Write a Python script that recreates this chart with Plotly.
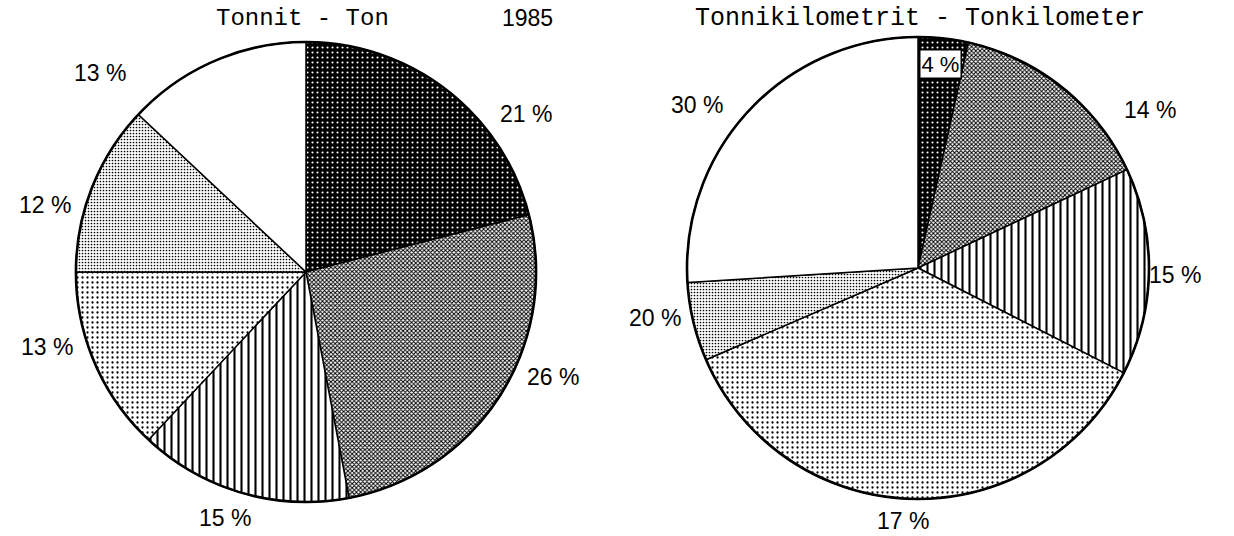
import plotly.graph_objects as go

# ---- data ----
left_title = "Tonnit - Ton"
right_title = "Tonnikilometrit - Tonkilometer"
year_label = "1985"
categories = ["A", "B", "C", "D", "E", "F"]
left_values = [21, 26, 15, 13, 12, 13]
left_labels = ["21 %", "26 %", "15 %", "13 %", "12 %", "13 %"]
right_values = [3.5, 14.5, 14.5, 36, 5.5, 26]
right_labels = ["4 %", "14 %", "15 %", "17 %", "20 %", "30 %"]

# ---- styles ----
W, H = 1234, 536
pat_shape = [".", "x", "|", ".", ".", ""]
pat_bg = ["black", "white", "white", "white", "white", "white"]
pat_fg = ["white", "black", "black", "black", "black", "black"]
pat_size = [5, 3, 7, 5, 3, 8]
pat_sol = [0.14, 0.55, 0.3, 0.16, 0.25, 0.0]


def px_dom(x0, x1, y0, y1):
    return dict(x=[x0 / W, x1 / W], y=[1 - y1 / H, 1 - y0 / H])


def pie(values, dom):
    return go.Pie(
        labels=categories,
        values=values,
        sort=False,
        direction="clockwise",
        rotation=0,
        textinfo="none",
        hoverinfo="skip",
        showlegend=False,
        domain=dom,
        marker=dict(
            colors=pat_bg,
            line=dict(color="black", width=1.5),
            pattern=dict(shape=pat_shape, bgcolor=pat_bg, fgcolor=pat_fg,
                         size=pat_size, solidity=pat_sol, fillmode="replace"),
        ),
    )


def rim(values, dom):
    # outline of the whole pie (sum of all values), drawn thicker
    return go.Pie(
        labels=["total"], values=[sum(values)], sort=False, textinfo="none",
        hoverinfo="skip", showlegend=False, domain=dom,
        marker=dict(colors=["rgba(0,0,0,0)"], line=dict(color="black", width=2.6)),
    )


dom_l = px_dom(76, 536, 42, 502)
dom_r = px_dom(687, 1149, 37, 499)
fig = go.Figure()
fig.add_trace(pie(left_values, dom_l))
fig.add_trace(rim(left_values, dom_l))
fig.add_trace(pie(right_values, dom_r))
fig.add_trace(rim(right_values, dom_r))

label_font = dict(family="Liberation Sans, Arial, sans-serif", size=23, color="black")
title_font = dict(family="Liberation Mono, Courier New, monospace", size=24, color="black")

# label positions in pixels (layout only)
left_pos = [(526, 114), (553, 377), (225, 518), (47, 347), (45, 205), (100, 73)]
right_pos = [(940, 64), (1150, 110), (1175, 275), (903, 521), (655, 318), (697, 105)]

ann = []
for txt, (x, y) in zip(left_labels, left_pos):
    ann.append(dict(x=x / W, y=1 - y / H, xref="paper", yref="paper", text=txt,
                    showarrow=False, font=label_font, xanchor="center", yanchor="middle"))
for i, (txt, (x, y)) in enumerate(zip(right_labels, right_pos)):
    a = dict(x=x / W, y=1 - y / H, xref="paper", yref="paper", text=txt,
             showarrow=False, font=label_font, xanchor="center", yanchor="middle")
    if i == 0:
        a.update(bgcolor="white", bordercolor="black", borderwidth=1.5, borderpad=1,
                 font=dict(family="Liberation Sans, Arial, sans-serif", size=22, color="black"))
    ann.append(a)

ann.append(dict(x=302 / W, y=1 - 18 / H, xref="paper", yref="paper", text=left_title,
                showarrow=False, font=title_font, xanchor="center", yanchor="middle"))
ann.append(dict(x=920 / W, y=1 - 18 / H, xref="paper", yref="paper", text=right_title,
                showarrow=False, font=dict(family=title_font["family"], size=25, color="black"),
                xanchor="center", yanchor="middle"))
ann.append(dict(x=527 / W, y=1 - 18 / H, xref="paper", yref="paper", text=year_label,
                showarrow=False, font=label_font, xanchor="center", yanchor="middle"))

fig.update_layout(
    width=W, height=H,
    margin=dict(l=0, r=0, t=0, b=0),
    paper_bgcolor="white", plot_bgcolor="white",
    annotations=ann,
)

fig.write_html("out.html", config={"displayModeBar": False},
               post_script="document.body.style.margin='0';document.body.style.overflow='hidden';")
